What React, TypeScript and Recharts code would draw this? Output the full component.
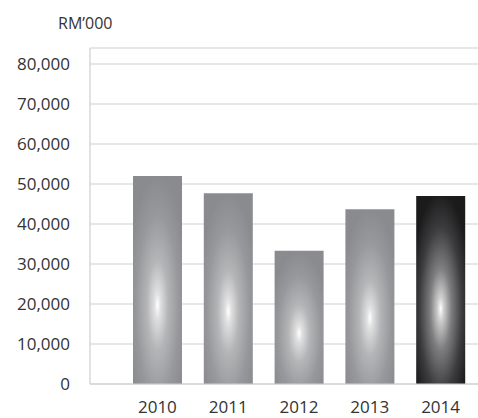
import { Bar, BarChart, CartesianGrid, Cell, XAxis, YAxis } from "recharts";

const years = ["2010", "2011", "2012", "2013", "2014"];
const values = [52000, 47700, 33300, 43700, 47000];
const yTicks = [0, 10000, 20000, 30000, 40000, 50000, 60000, 70000, 80000];
const unitLabel = "RM\u2019000";
const highlightYear = "2014";

const data = years.map((year, i) => ({ year, value: values[i] }));

const font = "'Open Sans', Lato, sans-serif";
const tickStyle = { fontSize: 17, fill: "#333", fontFamily: font };

export default function App(): React.ReactElement {
  return (
    <div style={{ position: "absolute", left: 0, top: 0, width: 478, height: 418, background: "#fff" }}>
      <div
        style={{
          position: "absolute",
          left: 58,
          top: 12,
          fontFamily: font,
          fontSize: 16,
          color: "#333"
        }}
      >
        {unitLabel}
      </div>
      <BarChart width={478} height={418} data={data} margin={{ top: 48, right: 0, left: 0, bottom: 0 }}>
        <defs>
          <radialGradient id="grayBar" cx="0.5" cy="0.62" r="0.62">
            <stop offset="0%" stopColor="#ffffff" />
            <stop offset="10%" stopColor="#e0e0e1" />
            <stop offset="35%" stopColor="#b4b5b7" />
            <stop offset="70%" stopColor="#97989b" />
            <stop offset="100%" stopColor="#8a8b8e" />
          </radialGradient>
          <radialGradient id="darkBar" cx="0.5" cy="0.6" r="0.62">
            <stop offset="0%" stopColor="#ffffff" />
            <stop offset="10%" stopColor="#cfcfcf" />
            <stop offset="35%" stopColor="#7e7e80" />
            <stop offset="70%" stopColor="#3c3c3e" />
            <stop offset="100%" stopColor="#1b1b1c" />
          </radialGradient>
        </defs>
        <CartesianGrid vertical={false} stroke="#cfcfcf" strokeWidth={1.2} />
        <XAxis
          dataKey="year"
          tick={tickStyle}
          tickLine={false}
          tickSize={0}
          tickMargin={17}
          height={34}
          axisLine={{ stroke: "#cfcfcf", strokeWidth: 1.2 }}
          padding={{ left: 32, right: 2 }}
        />
        <YAxis
          domain={[0, 84000]}
          ticks={yTicks}
          interval={0}
          tick={tickStyle}
          tickLine={false}
          tickSize={0}
          tickMargin={20}
          width={90}
          axisLine={{ stroke: "#cfcfcf", strokeWidth: 1.2 }}
          tickFormatter={(v: number) => v.toLocaleString("en-US")}
        />
        <Bar dataKey="value" barSize={49} isAnimationActive={false}>
          {data.map((d) => (
            <Cell key={d.year} fill={d.year === highlightYear ? "url(#darkBar)" : "url(#grayBar)"} />
          ))}
        </Bar>
      </BarChart>
    </div>
  );
}
